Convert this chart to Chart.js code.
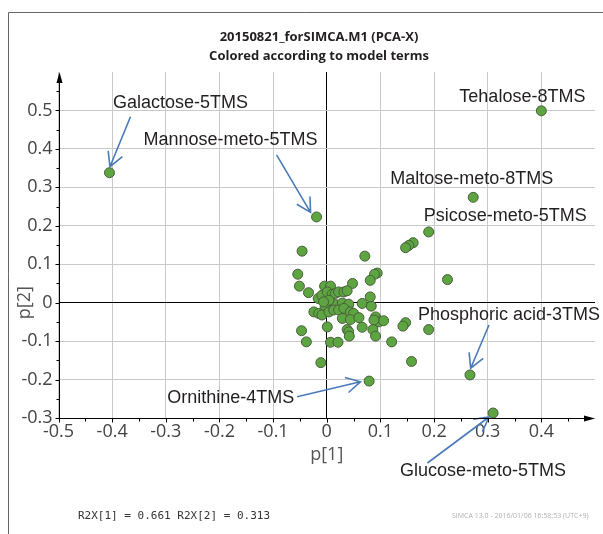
<!DOCTYPE html>
<html>
<head>
<meta charset="utf-8">
<script src="https://cdn.jsdelivr.net/npm/chart.js@4.4.0/dist/chart.umd.min.js"></script>
<style>
  html, body { margin: 0; padding: 0; background: #fff; }
  #wrap { width: 603px; height: 534px; position: relative; }
</style>
</head>
<body>
<div id="wrap"><canvas id="pcaChart" width="603" height="534"></canvas></div>
<script>
// Tick values of both axes
const xTicks = [-0.5, -0.4, -0.3, -0.2, -0.1, 0, 0.1, 0.2, 0.3, 0.4, 0.5];
const yTicks = [-0.3, -0.2, -0.1, 0, 0.1, 0.2, 0.3, 0.4, 0.5, 0.6];

// Named (annotated) loadings
const labelNames = ['Galactose-5TMS', 'Mannose-meto-5TMS', 'Tehalose-8TMS', 'Maltose-meto-8TMS',
                    'Psicose-meto-5TMS', 'Phosphoric acid-3TMS', 'Ornithine-4TMS', 'Glucose-meto-5TMS'];
const labelX = [-0.405, -0.019, 0.400, 0.273, 0.190, 0.267, 0.079, 0.310];
const labelY = [0.338, 0.223, 0.499, 0.274, 0.184, -0.188, -0.204, -0.287];

// The other loadings (p[1], p[2])
const otherX = [0.161, 0.153, 0.147, -0.046, 0.071, -0.054, 0.094, 0.089, 0.081, 0.225,
                -0.051, 0.048, -0.004, 0.007, -0.034, -0.016, -0.009, 0.001, 0.010, 0.016,
                0.022, 0.032, 0.038, -0.003, 0.016, 0.029, 0.041, 0.004, -0.006, -0.024,
                -0.015, -0.009, 0.004, 0.013, 0.022, 0.032, 0.044, 0.050, 0.029, 0.044,
                0.060, 0.066, 0.083, 0.081, 0.091, 0.097, 0.106, 0.088, 0.147, 0.142,
                0.190, 0.001, -0.047, 0.038, 0.041, 0.042, 0.066, 0.086, 0.091, -0.038,
                0.007, 0.021, 0.121, -0.011, 0.158];
const otherY = [0.156, 0.149, 0.143, 0.134, 0.121, 0.074, 0.077, 0.074, 0.058, 0.060,
                0.043, 0.050, 0.043, 0.043, 0.026, 0.011, 0.019, 0.028, 0.022, 0.024,
                0.028, 0.028, 0.031, -0.011, -0.005, -0.001, -0.004, 0.006, 0.002, -0.024,
                -0.028, -0.032, -0.024, -0.019, -0.019, -0.015, -0.024, -0.028, -0.041, -0.044,
                -0.039, -0.002, -0.009, 0.015, -0.037, -0.050, -0.047, -0.045, -0.052, -0.061,
                -0.070, -0.063, -0.073, -0.070, -0.076, -0.087, -0.064, -0.070, -0.087, -0.102,
                -0.103, -0.103, -0.102, -0.156, -0.153];

// where each label and its arrow sit, relative to the point (px)
const annotLayout = {
  'Galactose-5TMS':       { dx: 3.5,  dy: -70,  arrow: [21, -56, 0.5, -6] },
  'Mannose-meto-5TMS':    { dx: -173, dy: -77,  arrow: [-40, -62, -6, -4.5] },
  'Tehalose-8TMS':        { dx: -82,  dy: -14 },
  'Maltose-meto-8TMS':    { dx: -83,  dy: -18 },
  'Psicose-meto-5TMS':    { dx: -5,   dy: -16 },
  'Phosphoric acid-3TMS': { dx: -52,  dy: -60,  arrow: [19, -50, 0.7, -6.7] },
  'Ornithine-4TMS':       { dx: -202, dy: 17,   arrow: [-72, 15.7, -8.7, 0.7] },
  'Glucose-meto-5TMS':    { dx: -93,  dy: 58,   arrow: [-65.6, 50, -4, 4] }
};

const points = otherX.map((x, i) => ({ x: x, y: otherY[i] }))
  .concat(labelX.map((x, i) => ({ x: x, y: labelY[i] })));

const near = (a, b) => Math.abs(a - b) < 1e-9;

function gridColor(ctx, last) {
  const v = ctx.tick.value;
  if (near(v, 0)) return '#000';
  if (near(v, last)) return 'rgba(0,0,0,0)';
  return '#c9c9c9';
}

function drawArrow(c, x1, y1, x2, y2) {
  const ang = Math.atan2(y2 - y1, x2 - x1);
  const len = 16, spread = 0.5;
  c.beginPath();
  c.moveTo(x1, y1);
  c.lineTo(x2, y2);
  c.moveTo(x2 - len * Math.cos(ang - spread), y2 - len * Math.sin(ang - spread));
  c.lineTo(x2, y2);
  c.lineTo(x2 - len * Math.cos(ang + spread), y2 - len * Math.sin(ang + spread));
  c.stroke();
}

const decor = {
  id: 'decor',
  afterDatasetsDraw(chart) {
    const c = chart.ctx;
    const xs = chart.scales.x, ys = chart.scales.y;
    c.save();
    c.font = '18px "Liberation Sans", Arial, sans-serif';
    c.fillStyle = '#231f20';
    c.textBaseline = 'middle';
    c.textAlign = 'left';
    c.strokeStyle = '#4a7ab8';
    c.lineWidth = 1.6;
    labelNames.forEach((name, i) => {
      const px = xs.getPixelForValue(labelX[i]);
      const py = ys.getPixelForValue(labelY[i]);
      const lay = annotLayout[name];
      c.fillText(name, px + lay.dx, py + lay.dy);
      if (lay.arrow) {
        const a = lay.arrow;
        drawArrow(c, px + a[0], py + a[1], px + a[2], py + a[3]);
      }
    });
    c.restore();
  },
  afterDraw(chart) {
    const c = chart.ctx;
    const area = chart.chartArea;
    const xs = chart.scales.x, ys = chart.scales.y;
    c.save();
    // frame
    c.strokeStyle = '#666';
    c.lineWidth = 1;
    c.beginPath();
    c.moveTo(8.5, 534);
    c.lineTo(8.5, 12.5);
    c.lineTo(603, 12.5);
    c.stroke();

    // axis lines with arrow heads
    c.strokeStyle = '#000';
    c.fillStyle = '#000';
    const L = Math.round(area.left) + 0.5, B = Math.round(area.bottom) + 0.5;
    c.beginPath();
    c.moveTo(L, B); c.lineTo(L, area.top + 2);
    c.moveTo(L, B); c.lineTo(area.right - 4, B);
    c.stroke();
    c.beginPath();
    c.moveTo(L, area.top); c.lineTo(L - 3, area.top + 11); c.lineTo(L + 3, area.top + 11); c.closePath();
    c.fill();
    c.beginPath();
    c.moveTo(area.right, B); c.lineTo(area.right - 11, B - 3); c.lineTo(area.right - 11, B + 3); c.closePath();
    c.fill();

    // major and minor tick marks
    c.beginPath();
    xTicks.forEach((v, i) => {
      const px = Math.round(xs.getPixelForValue(v)) + 0.5;
      if (i < xTicks.length - 1) { c.moveTo(px, B); c.lineTo(px, B + 4); }
      const pm = Math.round(xs.getPixelForValue(v + 0.05)) + 0.5;
      if (v + 0.05 < xTicks[xTicks.length - 1]) { c.moveTo(pm, B); c.lineTo(pm, B + 3); }
    });
    yTicks.forEach((v, i) => {
      const py = Math.round(ys.getPixelForValue(v)) + 0.5;
      if (i < yTicks.length - 1) { c.moveTo(L, py); c.lineTo(L - 4, py); }
      const pm = Math.round(ys.getPixelForValue(v + 0.05)) + 0.5;
      if (v + 0.05 < yTicks[yTicks.length - 1]) { c.moveTo(L, pm); c.lineTo(L - 3, pm); }
    });
    c.stroke();

    // axis titles
    c.fillStyle = '#555';
    c.font = '18px "Open Sans", sans-serif';
    c.textAlign = 'center';
    c.textBaseline = 'middle';
    c.fillText('p[1]', xs.getPixelForValue(0), 455);
    c.save();
    c.translate(25, ys.getPixelForValue(0));
    c.rotate(-Math.PI / 2);
    c.fillText('p[2]', 0, 0);
    c.restore();

    // title
    c.fillStyle = '#231f20';
    c.font = 'bold 13px "Open Sans", sans-serif';
    c.fillText('20150821_forSIMCA.M1 (PCA-X)', 319, 37);
    c.fillText('Colored according to model terms', 319, 56);

    // footer
    c.textAlign = 'left';
    c.fillStyle = '#333';
    c.font = '11px "DejaVu Sans Mono", monospace';
    c.fillText('R2X[1] = 0.661 R2X[2] = 0.313', 78, 516);
    c.fillStyle = '#b0b0b0';
    c.font = '7px "Open Sans", sans-serif';
    c.fillText('SIMCA 13.0 - 2016/01/06 16:58:53 (UTC+9)', 452, 516);
    c.restore();
  }
};

new Chart(document.getElementById('pcaChart').getContext('2d'), {
  type: 'scatter',
  data: {
    datasets: [{
      data: points,
      backgroundColor: '#5ca540',
      borderColor: '#4b5e3e',
      borderWidth: 1,
      pointRadius: 5,
      pointHoverRadius: 5
    }]
  },
  options: {
    responsive: false,
    animation: false,
    devicePixelRatio: 1,
    layout: { padding: { left: 0, right: 8, top: 72, bottom: 0 } },
    plugins: { legend: { display: false }, tooltip: { enabled: false } },
    scales: {
      x: {
        type: 'linear',
        min: -0.5, max: 0.5,
        afterBuildTicks: (s) => { s.ticks = xTicks.map(v => ({ value: v })); },
        afterFit: (s) => { s.height = 116; },
        border: { display: false },
        grid: { drawTicks: false, color: (ctx) => gridColor(ctx, 0.5), lineWidth: 1 },
        ticks: {
          padding: 3,
          maxRotation: 0,
          autoSkip: false,
          color: '#444',
          font: { family: '"Open Sans", sans-serif', size: 18 },
          callback: (v) => near(v, 0.5) ? '' : String(v)
        }
      },
      y: {
        type: 'linear',
        min: -0.3, max: 0.6,
        afterBuildTicks: (s) => { s.ticks = yTicks.map(v => ({ value: v })); },
        afterFit: (s) => { s.width = 58.5; },
        border: { display: false },
        grid: { drawTicks: false, color: (ctx) => gridColor(ctx, 0.6), lineWidth: 1 },
        ticks: {
          padding: 6,
          autoSkip: false,
          color: '#444',
          font: { family: '"Open Sans", sans-serif', size: 18 },
          callback: (v) => near(v, 0.6) ? '' : String(v)
        }
      }
    }
  },
  plugins: [decor]
});
</script>
</body>
</html>
